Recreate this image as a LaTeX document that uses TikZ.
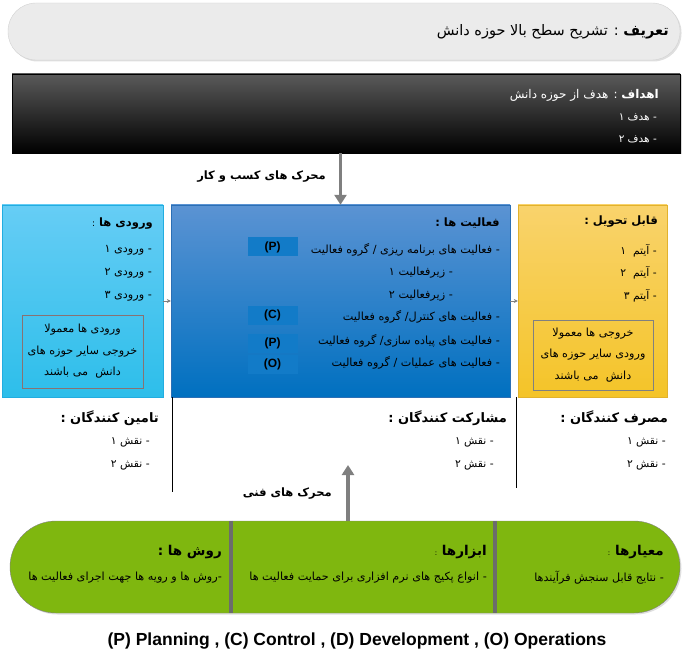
\documentclass[tikz,border=0pt]{standalone}
\usepackage{fontspec}
\setmainfont{Liberation Sans}
\newfontfamily\fafont[Script=Arabic]{DejaVu Sans}
\TeXXeTstate=1
\usepackage{xcolor}
\usetikzlibrary{arrows.meta, positioning, shadows}
\newcommand{\fa}[1]{\beginR #1\endR}
\definecolor{defgray}{HTML}{EBEBEB}
\definecolor{defline}{HTML}{D2D2D2}
\definecolor{goaltop}{HTML}{5A5A5A}
\definecolor{intop}{HTML}{66CDF5}
\definecolor{inbot}{HTML}{2DBEEA}
\definecolor{inline}{HTML}{22ADE0}
\definecolor{acttop}{HTML}{5B93D3}
\definecolor{actbot}{HTML}{0070C0}
\definecolor{actline}{HTML}{2B6FB5}
\definecolor{tagblue}{HTML}{127BC8}
\definecolor{deltop}{HTML}{F9D36C}
\definecolor{delbot}{HTML}{F4C428}
\definecolor{delline}{HTML}{E2B22C}
\definecolor{stdgreen}{HTML}{7FB70F}
\definecolor{arrowgray}{HTML}{7F7F7F}
\definecolor{noteline}{HTML}{887272}
\tikzset{
  panel/.style={rectangle, draw, inner sep=0pt},
  note/.style={rectangle, draw=noteline, line width=0.8pt, align=center,
               font=\fafont\fontsize{11.2}{21.5}\selectfont, inner sep=0pt},
  head/.style={font=\fafont\fontsize{11.5}{13}\selectfont\bfseries,
               inner sep=0pt, anchor=east},
  item/.style={font=\fafont\fontsize{11.2}{13}\selectfont,
               inner sep=0pt, anchor=east},
  role/.style={head, font=\fafont\fontsize{13}{15}\selectfont\bfseries},
  roleitem/.style={item, font=\fafont\fontsize{10.8}{13}\selectfont},
  tag/.style={rectangle, fill=tagblue, minimum width=50pt, minimum height=19pt,
              font=\fontsize{12}{14}\selectfont\bfseries, inner sep=0pt},
  bigarrow/.style={-{Triangle[length=10pt, width=12pt]}, line width=3.5pt,
                   draw=arrowgray},
  smallarrow/.style={-{Stealth[length=4pt, width=4pt]}, line width=0.6pt,
                     draw=arrowgray},
}

\begin{document}
\begin{tikzpicture}[x=1pt, y=-1pt]
  \useasboundingbox (0,0) rectangle (688,660);

  % Definition bar
  \node[panel, fill=defgray, draw=defline, rounded corners=28pt,
        minimum width=672pt, minimum height=57pt,
        drop shadow={shadow xshift=1.5pt, shadow yshift=-1.5pt, opacity=0.25}]
        (def) at (344,31.5) {};
  \node[item, font=\fafont\fontsize{14.5}{16}\selectfont] (deftext) at (669,32)
    {\fa{\textbf{تعریف} : تشریح سطح بالا حوزه دانش}};

  % Goals
  \node[panel, draw=black, top color=goaltop, middle color=black,
        bottom color=black, minimum width=668pt, minimum height=79pt,
        drop shadow={shadow xshift=1.5pt, shadow yshift=-1.5pt, opacity=0.3}]
        (goals) at (346,113.5) {};
  \node[item, text=white, font=\fafont\fontsize{12}{14}\selectfont]
    (goalt) at (659,95) {\fa{\textbf{اهداف} : هدف از حوزه دانش}};
  \node[item, text=white, font=\fafont\fontsize{10.5}{12}\selectfont]
    (goal1) at (657,117) {\fa{- هدف ۱}};
  \node[item, text=white, font=\fafont\fontsize{10.5}{12}\selectfont]
    (goal2) at (657,139) {\fa{- هدف ۲}};

  % Main row
  \node[panel, draw=inline, top color=intop, bottom color=inbot,
        minimum width=161pt, minimum height=192pt] (inputs) at (82.5,301) {};
  \node[panel, draw=actline, top color=acttop, bottom color=actbot,
        minimum width=339pt, minimum height=192pt] (acts) at (340.5,301) {};
  \node[panel, draw=delline, top color=deltop, bottom color=delbot,
        minimum width=149pt, minimum height=192pt] (dels) at (592.5,301) {};

  % Inputs
  \node[head] (int) at (153,224) {\fa{ورودی ها {\mdseries\small :}}};
  \node[item] (in1) at (152,250) {\fa{- ورودی ۱}};
  \node[item] (in2) at (152,273) {\fa{- ورودی ۲}};
  \node[item] (in3) at (152,296) {\fa{- ورودی ۳}};
  \node[note, minimum width=121pt, minimum height=73pt] (innote) at (82.5,351.5)
    {\fa{ورودی ها معمولا}\\\fa{خروجی سایر حوزه های}\\\fa{دانش\ \ می باشند}};

  % Activities
  \node[head] (actt) at (500,223) {\fa{فعالیت ها :}};
  \node[item] (act1) at (500,250) {\fa{- فعالیت های برنامه ریزی / گروه فعالیت}};
  \node[item] (sub1) at (453,273) {\fa{- زیرفعالیت ۱}};
  \node[item] (sub2) at (453,296) {\fa{- زیرفعالیت ۲}};
  \node[item] (act2) at (500,317) {\fa{- فعالیت های کنترل/ گروه فعالیت}};
  \node[item] (act3) at (500,341) {\fa{- فعالیت های پیاده سازی/ گروه فعالیت}};
  \node[item] (act4) at (500,363) {\fa{- فعالیت های عملیات / گروه فعالیت}};
  \node[tag] (tagp) at (272.5,247) {(P)};
  \node[tag] (tagc) at (272.5,315.5) {(C)};
  \node[tag] (tagd) at (272.5,343) {(P)};
  \node[tag] (tago) at (272.5,364) {(O)};

  % Deliverables
  \node[head] (delt) at (658,222) {\fa{قابل تحویل :}};
  \node[roleitem] (del1) at (657,251) {\fa{- آیتم\ \ ۱}};
  \node[roleitem] (del2) at (657,273) {\fa{- آیتم\ \ ۲}};
  \node[roleitem] (del3) at (657,296) {\fa{- آیتم ۳}};
  \node[note, draw=gray, minimum width=120pt, minimum height=70pt]
    (delnote) at (593,355)
    {\fa{خروجی ها معمولا}\\\fa{ورودی سایر حوزه های}\\\fa{دانش\ \ می باشند}};

  % Arrows between boxes
  \draw[smallarrow] (inputs) -- (acts);
  \draw[smallarrow] (acts) -- (dels);
  \draw[bigarrow] (goals.south -| acts) -- (acts.north);
  \node[head, font=\fafont\fontsize{11.5}{13}\selectfont\bfseries] (bizlabel)
    at (326,177) {\fa{محرک های کسب و کار}};

  % Roles
  \draw[line width=0.8pt] ([xshift=2pt]acts.south west) -- ++(0,95);
  \draw[line width=0.8pt] ([xshift=-1pt]dels.south west) -- ++(0,91);
  \node[role] (supt) at (159,418) {\fa{تامین کنندگان :}};
  \node[roleitem] (sup1) at (150,442) {\fa{- نقش ۱}};
  \node[roleitem] (sup2) at (150,465) {\fa{- نقش ۲}};
  \node[role] (part) at (507,418) {\fa{مشارکت کنندگان :}};
  \node[roleitem] (par1) at (494,442) {\fa{- نقش ۱}};
  \node[roleitem] (par2) at (494,465) {\fa{- نقش ۲}};
  \node[role] (cont) at (668,418) {\fa{مصرف کنندگان :}};
  \node[roleitem] (con1) at (666,442) {\fa{- نقش ۱}};
  \node[roleitem] (con2) at (666,465) {\fa{- نقش ۲}};

  % Standards, tools, methods
  \node[panel, fill=stdgreen, draw=gray, rounded corners=46pt,
        minimum width=670pt, minimum height=92pt,
        drop shadow={shadow xshift=1.5pt, shadow yshift=-1.5pt, opacity=0.25}]
        (std) at (345,567) {};
  \draw[line width=4pt, draw=gray!85!black] (std.north -| 231,0) -- (std.south -| 231,0);
  \draw[line width=4pt, draw=gray!85!black] (std.north -| 495,0) -- (std.south -| 495,0);
  \node[role, font=\fafont\fontsize{13.5}{15}\selectfont\bfseries] (crit)
    at (664,552) {\fa{معیارها {\mdseries\scriptsize :}}};
  \node[item] (crit1) at (664,578) {\fa{- نتایج قابل سنجش فرآیندها}};
  \node[role, font=\fafont\fontsize{13.5}{15}\selectfont\bfseries] (tool)
    at (487,552) {\fa{ابزارها {\mdseries\scriptsize :}}};
  \node[item] (tool1) at (487,578) {\fa{- انواع پکیج های نرم افزاری برای حمایت فعالیت ها}};
  \node[role, font=\fafont\fontsize{13.5}{15}\selectfont\bfseries] (meth)
    at (222,552) {\fa{روش ها :}};
  \node[item] (meth1) at (222,578) {\fa{-روش ها و رویه ها جهت اجرای فعالیت ها}};

  \coordinate (techtip) at (348,465);
  \draw[bigarrow] (std.north -| techtip) -- (techtip);
  \node[head, font=\fafont\fontsize{11.5}{13}\selectfont\bfseries] (techlabel)
    at (332,494) {\fa{محرک های فنی}};

  % Legend
  \node[font=\fontsize{17.5}{20}\selectfont\bfseries, inner sep=0pt] (legend)
    at (357,641) {(P) Planning , (C) Control , (D) Development , (O) Operations};
\end{tikzpicture}
\end{document}
